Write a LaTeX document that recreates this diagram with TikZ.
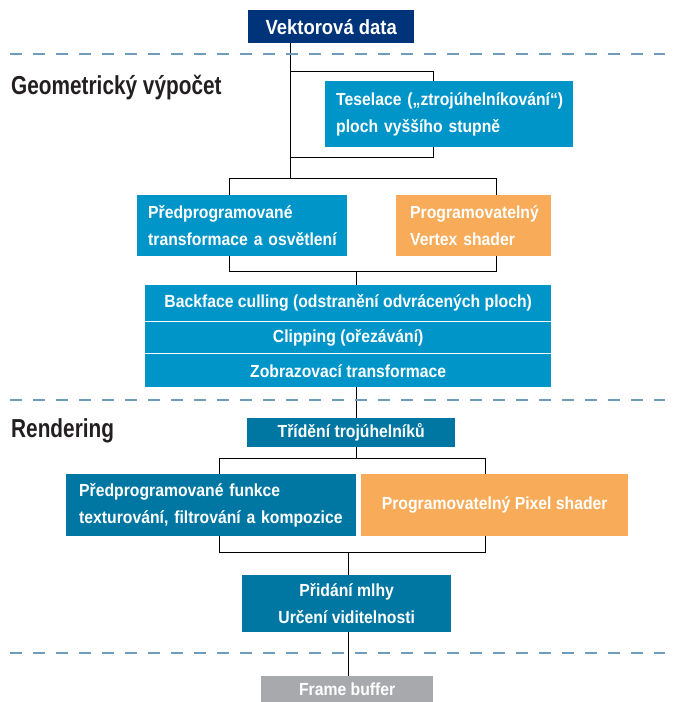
\documentclass[tikz,border=0pt]{standalone}
\usepackage{fontspec}
\setmainfont{Liberation Sans}
\newfontfamily\boxfont{Liberation Sans}[FakeStretch=0.9]
\newfontfamily\headfont{Liberation Sans}[FakeStretch=0.8]
\usepackage{xcolor}
\usepackage{tikz}
\usetikzlibrary{backgrounds}

\definecolor{navy}{HTML}{00347A}
\definecolor{svetla}{HTML}{0095C9}
\definecolor{tmava}{HTML}{0077A2}
\definecolor{oranz}{HTML}{F8AC59}
\definecolor{seda}{HTML}{A7A9AC}
\definecolor{spoj}{HTML}{979797}
\definecolor{carky}{HTML}{6D9DBA}
\definecolor{nadpis}{HTML}{231F20}

\newcommand\pismo{\boxfont\bfseries\fontsize{17.5}{27}\selectfont}

\tikzset{
  blok/.style={anchor=north west, fill=#1, text=white, inner ysep=0pt, font=\pismo},
  stred/.style 2 args={minimum width=#1, minimum height=#2, align=center, inner xsep=0pt},
  vlevo/.style={align=left},
  nadpisy/.style={anchor=west, inner sep=0pt, text=nadpis, font=\headfont\bfseries\fontsize{26}{30}\selectfont},
  oddel/.style={carky, line width=2pt, dash pattern=on 12pt off 11pt},
  spoje/.style={spoj, line width=2.4pt}
}

\begin{document}
\begin{tikzpicture}[x=1pt, y=-1pt]
    \useasboundingbox (0,0) rectangle (680,702);
    \foreach \y in {54,400,653}
      \draw[oddel] (10,\y) -- (665,\y);
    \node[nadpisy] (geom) at (11,87) {Geometrický výpočet};
    \node[nadpisy] (rend) at (11,431) {Rendering};

    \node[blok=navy, stred={166}{33}, font=\boxfont\bfseries\fontsize{20.5}{24}\selectfont] (vektor) at (248,10) {Vektorová data};
    \node[blok=svetla, vlevo, minimum height=66, inner xsep=11pt, text width=226pt] (teselace) at (325,81)
      {\mbox{Teselace („ztrojúhelníkování“)}\\\mbox{ploch vyššího stupně}};
    \node[blok=svetla, vlevo, minimum height=61, inner xsep=11pt, text width=188pt] (predtl) at (137,195)
      {\mbox{Předprogramované}\\\mbox{transformace a osvětlení}};
    \node[blok=oranz, vlevo, minimum height=61, inner xsep=14pt, text width=127pt] (vshader) at (396,195)
      {\mbox{Programovatelný}\\\mbox{Vertex shader}};
    \node[blok=svetla, stred={406}{36}] (culling) at (145,285) {Backface culling (odstranění odvrácených ploch)};
    \node[blok=svetla, stred={406}{31}] (clipping) at (145,322) {Clipping (ořezávání)};
    \node[blok=svetla, stred={406}{33}] (zobraz) at (145,354) {Zobrazovací transformace};
    \node[blok=tmava, stred={208}{29}] (trideni) at (247,418) {Třídění trojúhelníků};
    \node[blok=tmava, vlevo, minimum height=62, inner xsep=13pt, text width=264pt] (predtex) at (66,474)
      {\mbox{Předprogramované funkce}\\\mbox{texturování, filtrování a kompozice}};
    \node[blok=oranz, stred={267}{62}] (pshader) at (361,474) {Programovatelný Pixel shader};
    \node[blok=tmava, stred={209}{57}] (mlha) at (242,575) {Přidání mlhy\\Určení viditelnosti};
    \node[blok=seda, stred={172}{27}] (frame) at (261,676) {Frame buffer};

    \begin{scope}[on background layer, spoje]
      \coordinate (t1) at (290,178);
      \coordinate (b1) at (290,71);
      \coordinate (b2) at (290,157);
      \coordinate (b3) at (433,157);
      \coordinate (v1) at (229,178);
      \coordinate (v2) at (496,178);
      \coordinate (w1) at (229,271);
      \coordinate (w2) at (496,271);
      \coordinate (s1) at (356,271);
      \coordinate (s2) at (356,458);
      \coordinate (v3) at (219,458);
      \coordinate (v4) at (485,458);
      \coordinate (w3) at (219,552);
      \coordinate (w4) at (485,552);
      \coordinate (s3) at (348,552);
      \draw (vektor.south -| t1) -- (t1);
      \draw (b1) -| (b3) -- (b2);
      \draw (predtl.north -| v1) -- (v1) -- (v2) -- (vshader.north -| v2);
      \draw (predtl.south -| w1) -- (w1) -- (w2) -- (vshader.south -| w2);
      \draw (s1) -- (culling.north -| s1);
      \draw (zobraz.south -| s1) -- (trideni.north -| s1);
      \draw (trideni.south -| s2) -- (s2);
      \draw (predtex.north -| v3) -- (v3) -- (v4) -- (pshader.north -| v4);
      \draw (predtex.south -| w3) -- (w3) -- (w4) -- (pshader.south -| w4);
      \draw (s3) -- (mlha.north -| s3);
      \draw (mlha.south -| s3) -- (frame.north -| s3);
    \end{scope}
\end{tikzpicture}
\end{document}
